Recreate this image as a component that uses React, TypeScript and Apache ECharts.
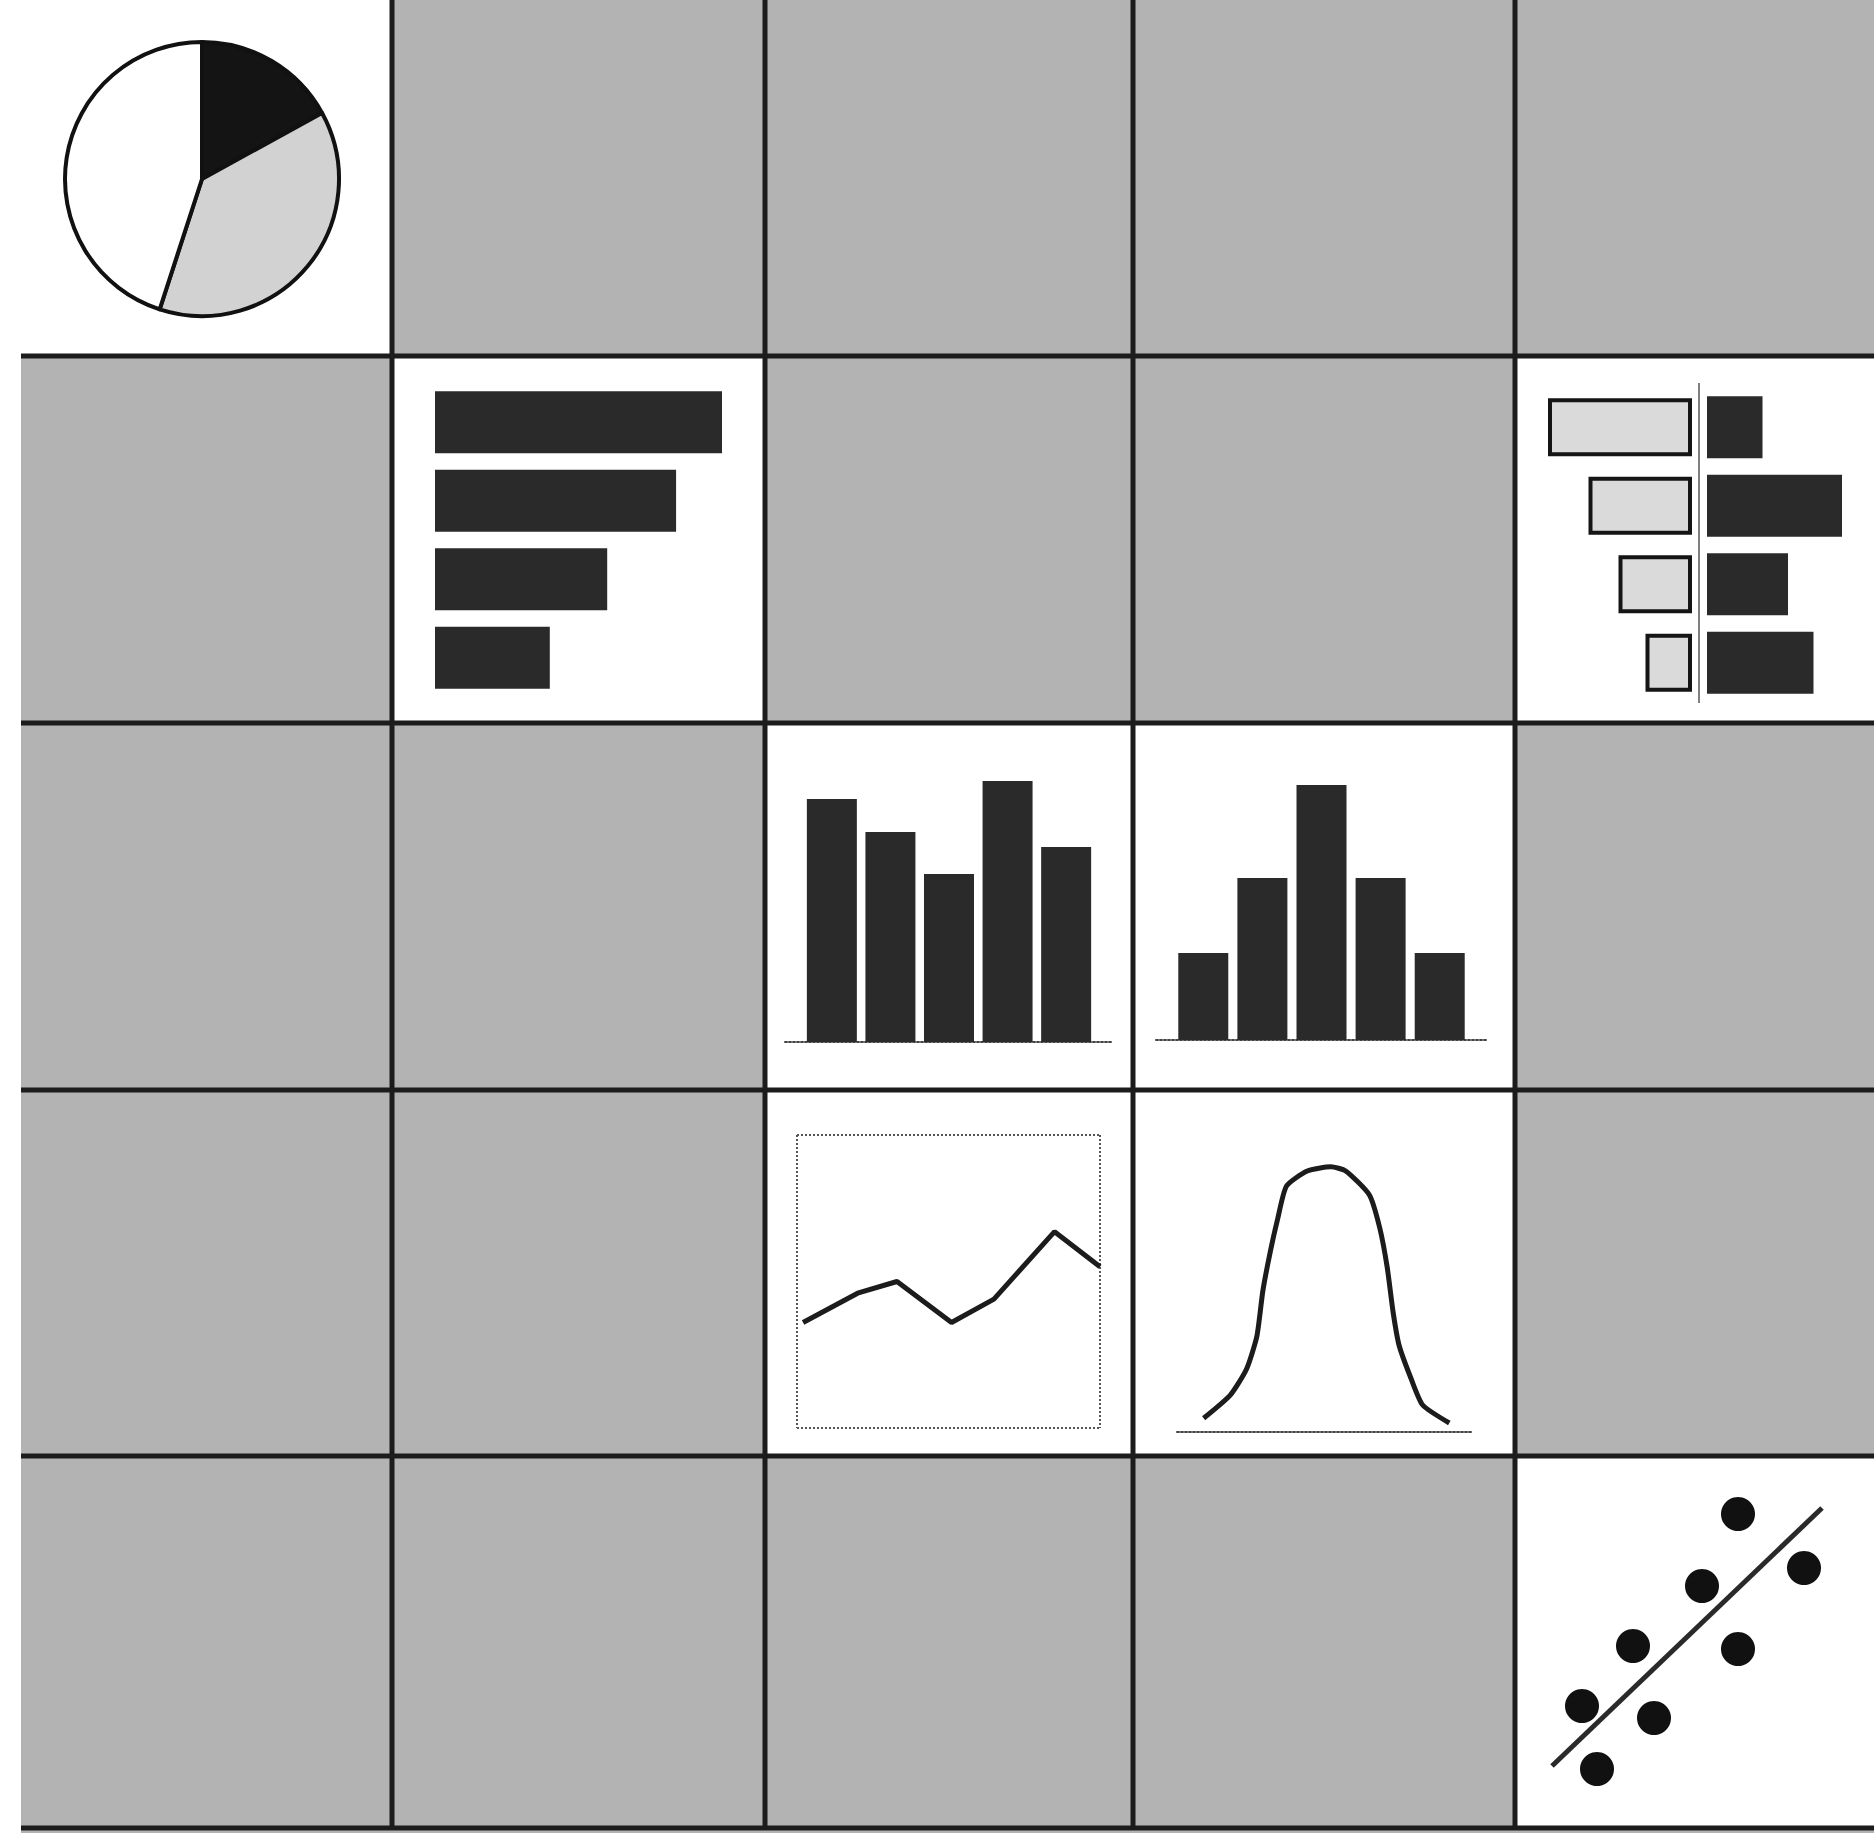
import React, { useEffect, useRef } from "react";
import * as echarts from "echarts";

// ---- data ----
const pieValues = [17, 38, 45];
const pieColors = ["#141414", "#d2d2d2", "#ffffff"];

const hbarCats = ["A", "B", "C", "D"];
const hbarValues = [100, 84, 60, 40];

const divCats = ["A", "B", "C", "D"];
const divLeftValues = [96, 69, 49, 31];
const divRightValues = [37, 90, 54, 71];

const vbarX = [1, 2, 3, 4, 5];
const vbarValues = [81, 70, 56, 87, 65];
const histValues = [29, 54, 85, 54, 29];

const lineX = [2, 20, 33, 51, 65, 85, 100];
const lineY = [36, 46, 50, 36, 44, 67, 55];

const bellX = [9, 18, 23.5, 27, 29, 31.5, 34, 37, 44, 52, 57, 65, 68.5, 71, 73, 75, 79, 83, 92];
const bellY = [4.6, 12.3, 21, 32, 47, 60, 71, 82, 87, 88.4, 87, 79, 68, 55, 40, 29, 18, 9, 3];

const scatterX = [66, 88, 54, 31, 66, 14, 38, 19];
const scatterY = [92, 74, 68, 48, 47, 28, 24, 7];
const trendX = [4, 94];
const trendY = [8, 94];

// ---- layout ----
const colEdges = [21, 392, 765, 1133, 1515, 1874];
const rowEdges = [0, 356, 723, 1090, 1456, 1828];
const whiteCells = [
  [0, 0], [1, 1], [1, 4], [2, 2], [2, 3], [3, 2], [3, 3], [4, 4],
];

const GRAY = "#b3b3b3";
const INK = "#1c1c1c";
const BAR = "#2a2a2a";

function hiddenAxis(gridIndex: number, extra: any = {}) {
  return { gridIndex, show: false, ...extra };
}

export default function App() {
  const ref = useRef<HTMLDivElement>(null);
  useEffect(() => {
    if (!ref.current) return;
    const chart = echarts.init(ref.current, null, { renderer: "svg" });

    const graphic: any[] = [];
    graphic.push({ type: "rect", shape: { x: 0, y: 0, width: 1874, height: 1833 }, style: { fill: "#ffffff" }, silent: true });
    graphic.push({ type: "rect", shape: { x: 21, y: 0, width: 1853, height: 1833 }, style: { fill: GRAY }, silent: true });
    whiteCells.forEach(([r, c]) => {
      const x0 = c === 0 ? 0 : colEdges[c];
      const y0 = rowEdges[r];
      graphic.push({
        type: "rect",
        shape: { x: x0, y: y0, width: colEdges[c + 1] - x0, height: rowEdges[r + 1] - y0 },
        style: { fill: "#ffffff" },
        silent: true,
      });
    });
    [1, 2, 3, 4].forEach((i) => {
      graphic.push({ type: "line", shape: { x1: colEdges[i], y1: 0, x2: colEdges[i], y2: 1830 }, style: { stroke: INK, lineWidth: 5 }, silent: true });
    });
    [1, 2, 3, 4, 5].forEach((i) => {
      graphic.push({ type: "line", shape: { x1: 21, y1: rowEdges[i], x2: 1874, y2: rowEdges[i] }, style: { stroke: INK, lineWidth: 5 }, silent: true });
    });
    // divider of the diverging bars
    graphic.push({ type: "line", shape: { x1: 1699, y1: 383, x2: 1699, y2: 703 }, style: { stroke: "#808080", lineWidth: 2 }, silent: true });

    const dottedLine = { show: true, lineStyle: { type: "dotted", color: "#444", width: 2 } };

    const option: any = {
      animation: false,
      backgroundColor: "#ffffff",
      graphic,
      grid: [
        { left: 435, top: 383, width: 287, height: 314 }, // 0 hbar
        { left: 1542, top: 388, width: 150, height: 314 }, // 1 div left
        { left: 1707, top: 388, width: 150, height: 314 }, // 2 div right
        { left: 785, top: 742, width: 328, height: 300 }, // 3 vbars
        { left: 1156, top: 740, width: 331, height: 300 }, // 4 hist
        { left: 797, top: 1135, width: 303, height: 293 }, // 5 line
        { left: 1177, top: 1132, width: 296, height: 300 }, // 6 bell
        { left: 1540, top: 1490, width: 300, height: 300 }, // 7 scatter
      ],
      xAxis: [
        hiddenAxis(0, { type: "value", min: 0, max: 100 }),
        hiddenAxis(1, { type: "value", min: 0, max: 100, inverse: true }),
        hiddenAxis(2, { type: "value", min: 0, max: 100 }),
        {
          gridIndex: 3, type: "value", min: 0.2, max: 5.8,
          axisLine: dottedLine, axisTick: { show: false }, axisLabel: { show: false }, splitLine: { show: false },
        },
        {
          gridIndex: 4, type: "value", min: 0.2, max: 5.8,
          axisLine: dottedLine, axisTick: { show: false }, axisLabel: { show: false }, splitLine: { show: false },
        },
        {
          gridIndex: 5, type: "value", min: 0, max: 100, interval: 100,
          axisLine: { show: false }, axisTick: { show: false }, axisLabel: { show: false },
          splitLine: { show: true, lineStyle: { type: "dotted", color: "#555", width: 2 } },
        },
        {
          gridIndex: 6, type: "value", min: 0, max: 100,
          axisLine: dottedLine, axisTick: { show: false }, axisLabel: { show: false }, splitLine: { show: false },
        },
        hiddenAxis(7, { type: "value", min: 0, max: 100 }),
      ],
      yAxis: [
        hiddenAxis(0, { type: "category", data: hbarCats, inverse: true }),
        hiddenAxis(1, { type: "category", data: divCats, inverse: true }),
        hiddenAxis(2, { type: "category", data: divCats, inverse: true }),
        hiddenAxis(3, { type: "value", min: 0, max: 100 }),
        hiddenAxis(4, { type: "value", min: 0, max: 100 }),
        {
          gridIndex: 5, type: "value", min: 0, max: 100, interval: 100,
          axisLine: { show: false }, axisTick: { show: false }, axisLabel: { show: false },
          splitLine: { show: true, lineStyle: { type: "dotted", color: "#555", width: 2 } },
        },
        hiddenAxis(6, { type: "value", min: 0, max: 100 }),
        hiddenAxis(7, { type: "value", min: 0, max: 100 }),
      ],
      series: [
        {
          type: "pie",
          center: [202, 179],
          radius: 137,
          startAngle: 90,
          clockwise: true,
          silent: true,
          label: { show: false },
          labelLine: { show: false },
          itemStyle: { borderColor: "#111", borderWidth: 4 },
          data: pieValues.map((v, i) => ({ value: v, itemStyle: { color: pieColors[i] } })),
        },
        {
          type: "bar", xAxisIndex: 0, yAxisIndex: 0, barWidth: 62,
          itemStyle: { color: BAR }, data: hbarValues,
        },
        {
          type: "bar", xAxisIndex: 1, yAxisIndex: 1, barWidth: 58,
          itemStyle: { color: "#dadada", borderColor: "#151515", borderWidth: 4 }, data: divLeftValues,
        },
        {
          type: "bar", xAxisIndex: 2, yAxisIndex: 2, barWidth: 62,
          itemStyle: { color: BAR }, data: divRightValues,
        },
        {
          type: "bar", xAxisIndex: 3, yAxisIndex: 3, barWidth: 50,
          itemStyle: { color: BAR }, data: vbarX.map((x, i) => [x, vbarValues[i]]),
        },
        {
          type: "bar", xAxisIndex: 4, yAxisIndex: 4, barWidth: 50,
          itemStyle: { color: BAR }, data: vbarX.map((x, i) => [x, histValues[i]]),
        },
        {
          type: "line", xAxisIndex: 5, yAxisIndex: 5, symbol: "none",
          lineStyle: { color: INK, width: 5 }, data: lineX.map((x, i) => [x, lineY[i]]),
        },
        {
          type: "line", xAxisIndex: 6, yAxisIndex: 6, symbol: "none", smooth: 0.2,
          lineStyle: { color: INK, width: 5 }, data: bellX.map((x, i) => [x, bellY[i]]),
        },
        {
          type: "line", xAxisIndex: 7, yAxisIndex: 7, symbol: "none",
          lineStyle: { color: "#2a2a2a", width: 5 }, data: trendX.map((x, i) => [x, trendY[i]]),
        },
        {
          type: "scatter", xAxisIndex: 7, yAxisIndex: 7, symbolSize: 34,
          itemStyle: { color: "#111", opacity: 1 }, data: scatterX.map((x, i) => [x, scatterY[i]]),
        },
      ],
    };
    chart.setOption(option);
    return () => chart.dispose();
  }, []);

  return (
    <div
      ref={ref}
      style={{ position: "absolute", left: 0, top: 0, width: 1874, height: 1833 }}
    />
  );
}
